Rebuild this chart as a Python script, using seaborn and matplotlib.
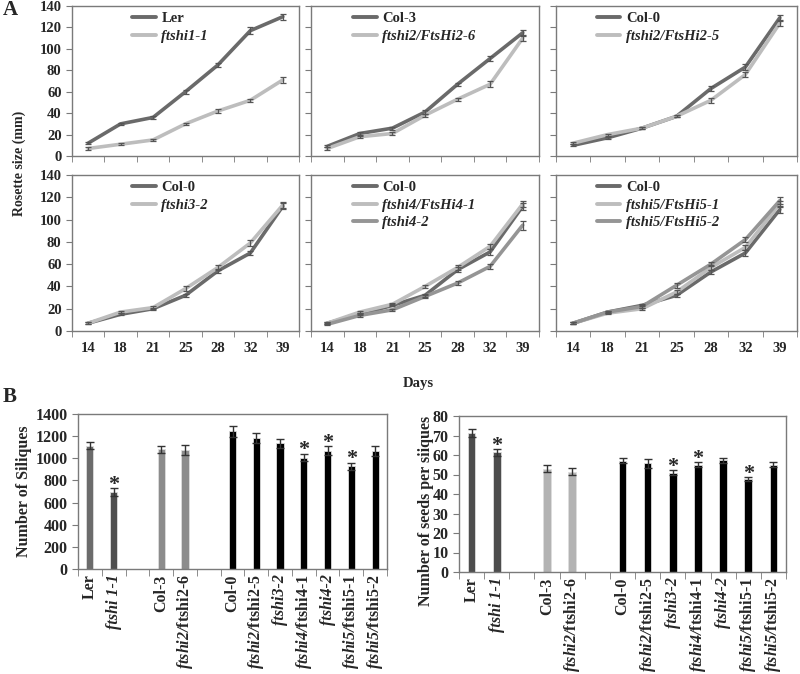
import matplotlib

matplotlib.use("Agg")
import matplotlib.pyplot as plt
import numpy as np
import pandas as pd
import seaborn as sns

# ---------------- data ----------------
days = [14, 18, 21, 25, 28, 32, 39]

ler = [12, 30, 36, 60, 85, 117, 130]
ler_err = [1, 1, 1, 2, 2, 3, 3]
ftshi1_1 = [7, 11, 15, 30, 42, 52, 71]
ftshi1_1_err = [1, 1, 1, 1, 1.5, 1.5, 3]

col3 = [9, 21, 26, 41, 67, 91, 115]
col3_err = [1, 1, 1.5, 1.5, 1.5, 2, 3]
ftshi2_6 = [7, 18, 21, 38, 53, 67, 110]
ftshi2_6_err = [1, 1, 1.5, 1.5, 1.5, 3, 3]

col0_a3 = [10, 17, 26, 37, 63, 83, 129]
col0_a3_err = [1, 1, 1, 1, 2.5, 2.5, 3]
ftshi2_5 = [12, 20, 26, 37, 52, 76, 124]
ftshi2_5_err = [1, 1, 1, 1, 2.5, 2.5, 3]

col0_a4 = [7, 15, 20, 32, 54, 70, 112]
col0_a4_err = [1, 1, 1, 1.5, 1.5, 2, 2.5]
ftshi3_2 = [7, 17, 21, 38, 57, 79, 113]
ftshi3_2_err = [1, 1, 1, 2.5, 2, 3, 3]

col0_a5 = [7, 15, 23, 32, 55, 71, 112]
col0_a5_err = [1, 1, 1, 1.5, 2, 2.5, 3]
ftshi4_1 = [7, 17, 24, 40, 57, 76, 114]
ftshi4_1_err = [1, 1, 1, 1.5, 2, 2.5, 3]
ftshi4_2 = [6, 14, 19, 31, 43, 58, 95]
ftshi4_2_err = [1, 1, 1, 1.5, 2, 2.5, 4]

col0_a6 = [7, 17, 23, 32, 53, 70, 109]
col0_a6_err = [1, 1, 1, 1.5, 2, 2.5, 3]
ftshi5_1 = [7, 16, 20, 35, 57, 75, 114]
ftshi5_1_err = [1, 1, 1, 1.5, 2, 2.5, 3]
ftshi5_2 = [7, 17, 22, 41, 60, 82, 117]
ftshi5_2_err = [1, 1, 1, 2, 2, 2.5, 3]

genotypes = ["Ler", "ftshi 1-1", "Col-3", "ftshi2/ftshi2-6", "Col-0",
             "ftshi2/ftshi2-5", "ftshi3-2", "ftshi4/ftshi4-1", "ftshi4-2",
             "ftshi5/ftshi5-1", "ftshi5/ftshi5-2"]
siliques = [1115, 695, 1080, 1072, 1245, 1185, 1137, 1007, 1067, 928, 1070]
siliques_err = [35, 35, 35, 45, 50, 45, 40, 35, 40, 30, 45]
siliques_sig = [False, True, False, False, False, False, False, True, True, True, False]
seeds = [71.3, 61.3, 53.0, 51.5, 57.0, 55.7, 51.0, 55.0, 57.2, 47.5, 55.0]
seeds_err = [2.0, 1.7, 1.8, 2.0, 1.3, 2.3, 1.3, 1.3, 1.2, 1.0, 1.4]
seeds_sig = [False, True, False, False, False, False, True, True, False, True, False]

# slots on the bar axis, with two empty gaps
slots = ["Ler", "ftshi 1-1", " ", "Col-3", "ftshi2/ftshi2-6", "  ", "Col-0",
         "ftshi2/ftshi2-5", "ftshi3-2", "ftshi4/ftshi4-1", "ftshi4-2",
         "ftshi5/ftshi5-1", "ftshi5/ftshi5-2"]
slot_labels = ["Ler", "ftshi 1-1", "", "Col-3", r"$\mathbfit{ftshi2/}$ftshi2-6", "",
               "Col-0", r"$\mathbfit{ftshi2/}$ftshi2-5", "ftshi3-2",
               r"$\mathbfit{ftshi4/}$ftshi4-1", "ftshi4-2",
               r"$\mathbfit{ftshi5/}$ftshi5-1", r"$\mathbfit{ftshi5/}$ftshi5-2"]
italic_slots = ["ftshi 1-1", "ftshi3-2", "ftshi4-2"]

# ---------------- style ----------------
sns.set_style("ticks")
plt.rcParams["font.family"] = ["Liberation Serif", "DejaVu Serif"]
plt.rcParams["font.weight"] = "bold"
plt.rcParams["mathtext.fontset"] = "custom"
plt.rcParams["mathtext.rm"] = "Liberation Serif:bold"
plt.rcParams["mathtext.bf"] = "Liberation Serif:bold"
plt.rcParams["mathtext.it"] = "Liberation Serif:italic:bold"
plt.rcParams["mathtext.bfit"] = "Liberation Serif:italic:bold"

DARK = "#6a6a6a"
LIGHT = "#bdbdbd"
MID = "#959595"
SPINE = "#7a7a7a"

W, H = 800, 674
fig = plt.figure(figsize=(W / 100, H / 100), dpi=100)


def box(x0, x1, y0, y1):
    return [x0 / W, 1 - y1 / H, (x1 - x0) / W, (y1 - y0) / H]


def style_frame(ax):
    for s in ax.spines.values():
        s.set_visible(True)
        s.set_color(SPINE)
        s.set_linewidth(1.0)


panels = [
    [("Ler", ler, ler_err, DARK), ("ftshi1-1", ftshi1_1, ftshi1_1_err, LIGHT)],
    [("Col-3", col3, col3_err, DARK), ("ftshi2/FtsHi2-6", ftshi2_6, ftshi2_6_err, LIGHT)],
    [("Col-0", col0_a3, col0_a3_err, DARK), ("ftshi2/FtsHi2-5", ftshi2_5, ftshi2_5_err, LIGHT)],
    [("Col-0", col0_a4, col0_a4_err, DARK), ("ftshi3-2", ftshi3_2, ftshi3_2_err, LIGHT)],
    [("Col-0", col0_a5, col0_a5_err, DARK), ("ftshi4/FtsHi4-1", ftshi4_1, ftshi4_1_err, LIGHT),
     ("ftshi4-2", ftshi4_2, ftshi4_2_err, MID)],
    [("Col-0", col0_a6, col0_a6_err, DARK), ("ftshi5/FtsHi5-1", ftshi5_1, ftshi5_1_err, LIGHT),
     ("ftshi5/FtsHi5-2", ftshi5_2, ftshi5_2_err, MID)],
]

cols = [(72, 299), (311, 539), (556, 797)]
rows = [(6, 156), (175, 331)]
legend_x = [0.24, 0.16, 0.145]

for i, series in enumerate(panels):
    r, c = divmod(i, 3)
    ax = fig.add_axes(box(cols[c][0], cols[c][1], rows[r][0], rows[r][1]))
    pos = np.arange(len(days))
    frames = []
    for name, vals, errs, colr in series:
        frames.append(pd.DataFrame({"pos": pos, "size": vals, "line": name}))
    df = pd.concat(frames, ignore_index=True)
    pal = {name: colr for name, _, _, colr in series}
    order = [name for name, _, _, _ in series]
    sns.lineplot(data=df, x="pos", y="size", hue="line", hue_order=order,
                 palette=pal, linewidth=2.6, ax=ax, sort=False)
    for name, vals, errs, colr in series:
        ax.errorbar(pos, vals, yerr=errs, fmt="none", ecolor="#555555",
                    elinewidth=0.9, capsize=2, capthick=0.9, zorder=3)
    ax.set_xlim(-0.5, len(days) - 0.5)
    ax.set_ylim(0, 140)
    ax.set_yticks(np.arange(0, 141, 20))
    ax.set_xticks(pos)
    ax.set_xticks(np.arange(-0.5, len(days), 1), minor=True)
    ax.tick_params(axis="x", which="major", length=0, pad=8, labelsize=10.5)
    ax.tick_params(axis="x", which="minor", length=4, color=SPINE, direction="out")
    ax.tick_params(axis="y", length=4, color=SPINE, direction="out", labelsize=10.5)
    if r == 1:
        ax.set_xticklabels([str(d) for d in days])
    else:
        ax.set_xticklabels([])
    if c != 0:
        ax.set_yticklabels([])
    ax.set_xlabel("")
    ax.set_ylabel("")
    style_frame(ax)
    handles, labels = ax.get_legend_handles_labels()
    leg = ax.legend(handles, labels, loc="upper left",
                    bbox_to_anchor=(legend_x[c], 1.0), frameon=False,
                    fontsize=10.5, handlelength=1.6, handletextpad=0.4,
                    labelspacing=0.3, borderaxespad=0.2, borderpad=0.2)
    for t, lab in zip(leg.get_texts(), labels):
        if lab.startswith("ftshi"):
            t.set_fontstyle("italic")
    for h in leg.get_lines():
        h.set_linewidth(2.8)

fig.text(3 / W, 1 - 10 / H, "A", fontsize=15, ha="left", va="center")
fig.text(19 / W, 1 - 163 / H, "Rosette size (mm)", rotation=90, fontsize=10,
         ha="center", va="center")
fig.text(418 / W, 1 - 383 / H, "Days", fontsize=10.5, ha="center", va="center")
fig.text(3 / W, 1 - 397 / H, "B", fontsize=15, ha="left", va="center")

# ---------------- bar charts ----------------
bar_specs = [
    (box(78, 387, 414, 569), siliques, siliques_err, siliques_sig,
     ["#6b6b6b", "#4f4f4f", "#8c8c8c", "#8c8c8c"] + ["#000000"] * 7,
     1400, 200, "Number of Siliques", (24, 491)),
    (box(459, 786, 416, 572), seeds, seeds_err, seeds_sig,
     ["#4d4d4d", "#4d4d4d", "#b3b3b3", "#b3b3b3"] + ["#000000"] * 7,
     80, 10, "Number of seeds per siiques", (426, 511)),
]

for rect, vals, errs, sig, colors, ymax, ystep, ylab, ylab_xy in bar_specs:
    ax = fig.add_axes(rect)
    df = pd.DataFrame({"genotype": genotypes, "value": vals})
    pal = dict(zip(genotypes, colors))
    sns.barplot(data=df, x="genotype", y="value", order=slots, hue="genotype",
                palette=pal, width=0.3, legend=False, ax=ax,
                edgecolor="#dddddd", linewidth=0.6, saturation=1)
    xpos = [slots.index(g) for g in genotypes]
    ax.errorbar(xpos, vals, yerr=errs, fmt="none", ecolor="#333333",
                elinewidth=1.0, capsize=3, capthick=1.0, zorder=3)
    for x, v, e, s in zip(xpos, vals, errs, sig):
        if s:
            ax.text(x, v + e - ymax * 0.01, "*", ha="center", va="baseline",
                    fontsize=16)
    ax.set_xlim(-0.5, len(slots) - 0.5)
    ax.set_ylim(0, ymax)
    ax.set_yticks(np.arange(0, ymax + 1, ystep))
    ax.set_xticks(np.arange(len(slots)))
    ax.set_xticklabels(slot_labels, rotation=90, fontsize=11.5)
    for t, s in zip(ax.get_xticklabels(), slots):
        if s in italic_slots:
            t.set_fontstyle("italic")
    ax.set_xticks(np.arange(-0.5, len(slots), 1), minor=True)
    ax.tick_params(axis="x", which="major", length=0, pad=4)
    ax.tick_params(axis="x", which="minor", length=5, color=SPINE, direction="out")
    ax.tick_params(axis="y", length=4, color=SPINE, direction="out", labelsize=11.5)
    ax.set_xlabel("")
    ax.set_ylabel("")
    style_frame(ax)
    fig.text(ylab_xy[0] / W, 1 - ylab_xy[1] / H, ylab, rotation=90,
             fontsize=11.5, ha="center", va="center")

fig.savefig("out.png", dpi=100)
